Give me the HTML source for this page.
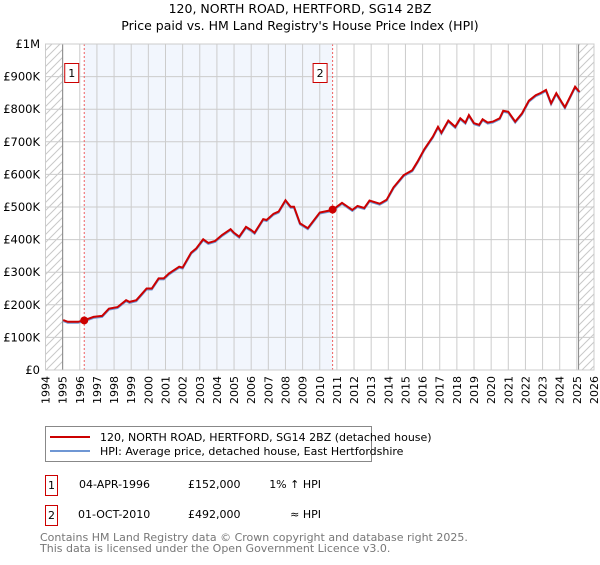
<!DOCTYPE html>
<html><head><meta charset="utf-8"><style>
body{margin:0;background:#fff;font-family:"Liberation Sans","DejaVu Sans",sans-serif;}
svg text{font-family:"DejaVu Sans","Liberation Sans",sans-serif;}
</style></head><body>
<svg id="chart" width="600" height="560" xmlns="http://www.w3.org/2000/svg">
<defs><pattern id="hatch" x="0" y="0" width="8" height="8" patternUnits="userSpaceOnUse"><path d="M0,8 L8,0 M-2,2 L2,-2 M6,10 L10,6" stroke="#c8c8c8" stroke-width="1" fill="none"/></pattern></defs>
<text x="300" y="13" font-size="12.5" text-anchor="middle">120, NORTH ROAD, HERTFORD, SG14 2BZ</text>
<text x="300" y="30" font-size="12.5" text-anchor="middle">Price paid vs. HM Land Registry's House Price Index (HPI)</text>
<g id="plot"></g>
<g>
<rect x="45.5" y="426.5" width="326" height="35" fill="#fff" stroke="#888"/>
<line x1="50" y1="437" x2="90" y2="437" stroke="#cc0000" stroke-width="2"/>
<text x="100" y="441" font-size="11">120, NORTH ROAD, HERTFORD, SG14 2BZ (detached house)</text>
<line x1="50" y1="451" x2="90" y2="451" stroke="#6f97d4" stroke-width="2"/>
<text x="100" y="455" font-size="11">HPI: Average price, detached house, East Hertfordshire</text>
</g>
<g font-size="11">
<rect x="45.5" y="475.5" width="12" height="20" fill="#fff" stroke="#cc0000"/><text x="51.5" y="489" text-anchor="middle">1</text>
<text x="79" y="488">04-APR-1996</text><text x="188" y="488">£152,000</text><text x="321" y="488" text-anchor="end">1% ↑ HPI</text>
<rect x="45.5" y="505.5" width="12" height="20" fill="#fff" stroke="#cc0000"/><text x="51.5" y="519" text-anchor="middle">2</text>
<text x="78" y="518">01-OCT-2010</text><text x="188" y="518">£492,000</text><text x="321" y="518" text-anchor="end">≈ HPI</text>
</g>
<text x="40" y="541" font-size="11" fill="#777">Contains HM Land Registry data © Crown copyright and database right 2025.</text>
<text x="40" y="552" font-size="11" fill="#777">This data is licensed under the Open Government Licence v3.0.</text>
</svg>
<script>
const years=[1995.03,1995.3,1995.9,1996.3,1996.8,1997.3,1997.7,1998.2,1998.7,1998.9,1999.3,1999.9,2000.2,2000.6,2000.9,2001.2,2001.8,2002.0,2002.5,2002.8,2003.2,2003.5,2003.9,2004.3,2004.8,2005.0,2005.3,2005.7,2006.0,2006.2,2006.7,2006.9,2007.3,2007.6,2008.0,2008.3,2008.5,2008.85,2009.3,2010.0,2010.75,2011.3,2011.9,2012.2,2012.6,2012.9,2013.5,2013.9,2014.3,2014.9,2015.4,2015.7,2016.1,2016.6,2016.9,2017.1,2017.5,2017.9,2018.2,2018.5,2018.7,2019.0,2019.3,2019.5,2019.8,2020.1,2020.5,2020.7,2021.0,2021.4,2021.8,2022.2,2022.6,2022.9,2023.2,2023.5,2023.8,2024.1,2024.3,2024.65,2024.9,2025.15];
const prices=[153,148,148,153,163,166,188,193,214,209,214,250,250,281,281,296,317,314,360,373,401,390,396,414,432,421,409,439,429,421,463,460,479,486,521,501,501,450,435,483,491,513,491,503,497,520,510,522,560,598,613,639,677,716,746,728,765,746,772,759,782,757,752,769,759,762,772,795,792,762,787,826,843,850,859,818,849,823,806,843,869,853];
const hpi=prices.map(v=>v);
const saleYears=[1996.26,2010.75];
const salePrices=[152,492];
const saleLabels=["1","2"];
const yTicks=[0,100,200,300,400,500,600,700,800,900,1000];
const yTickLabels=["£0","£100K","£200K","£300K","£400K","£500K","£600K","£700K","£800K","£900K","£1M"];
const xTicks=[];for(let y=1994;y<=2026;y++)xTicks.push(y);

const X0=45.5,X1=594,Y0=370,Y1=44;
const xs=y=>X0+(y-1994)*(X1-X0)/32;
const ys=v=>Y0-v*(Y0-Y1)/1000;
const NS="http://www.w3.org/2000/svg";
const g=document.getElementById('plot');
function mk(t,a,p){const e=document.createElementNS(NS,t);for(const k in a)e.setAttribute(k,a[k]);(p||g).appendChild(e);return e;}

let r=mk('rect',{x:xs(saleYears[0]),y:Y1,width:xs(saleYears[1])-xs(saleYears[0]),height:Y0-Y1,fill:'#f2f6fd'});


r=mk('rect',{x:X0,y:Y1,width:xs(1995)-X0,height:Y0-Y1,fill:'url(#hatch)'});


r=mk('rect',{x:xs(2025.1),y:Y1,width:X1-xs(2025.1),height:Y0-Y1,fill:'url(#hatch)'});



xTicks.forEach(y=>{const l=mk('line',{x1:xs(y),x2:xs(y),y1:Y1,y2:Y0,stroke:'#ccc','stroke-width':1});


const t=mk('text',{x:0,y:0,'font-size':11,'text-anchor':'end',transform:`translate(${xs(y)+4},${Y0+6}) rotate(-90)`});t.textContent=y;

});
yTicks.forEach((v,i)=>{const l=mk('line',{x1:X0,x2:X1,y1:ys(v),y2:ys(v),stroke:'#ccc','stroke-width':1});


const t=mk('text',{x:40,y:ys(v)+4,'font-size':11.5,'text-anchor':'end'});t.textContent=yTickLabels[i];

});
[1995,2025.1].forEach(y=>{const l=mk('line',{x1:xs(y),x2:xs(y),y1:Y1,y2:Y0,stroke:'#888','stroke-width':1});

});

const pl=(arr,dy)=>years.map((y,i)=>xs(y).toFixed(1)+','+(ys(arr[i])+dy).toFixed(1)).join(' ');
let p=mk('polyline',{points:pl(hpi,1),fill:'none',stroke:'#6f97d4','stroke-width':2});


p=mk('polyline',{points:pl(prices,0),fill:'none',stroke:'#cc0000','stroke-width':2});



saleYears.forEach((y,i)=>{const l=mk('line',{x1:xs(y),x2:xs(y),y1:Y1,y2:Y0,stroke:'#f06060','stroke-dasharray':'2,2','stroke-width':1});


const c=mk('circle',{cx:xs(y),cy:ys(salePrices[i]),r:4,fill:'#cc0000'});


const b=mk('rect',{x:xs(y)-19.5,y:63.5,width:14,height:19,fill:'#fff',stroke:'#cc0000'});


const t=mk('text',{x:xs(y)-12.5,y:77,'font-size':11,'text-anchor':'middle'});t.textContent=saleLabels[i];

});
const fr=mk('rect',{x:X0,y:Y1,width:X1-X0,height:Y0-Y1,fill:'none',stroke:'#ccc'});


</script>
</body></html>
